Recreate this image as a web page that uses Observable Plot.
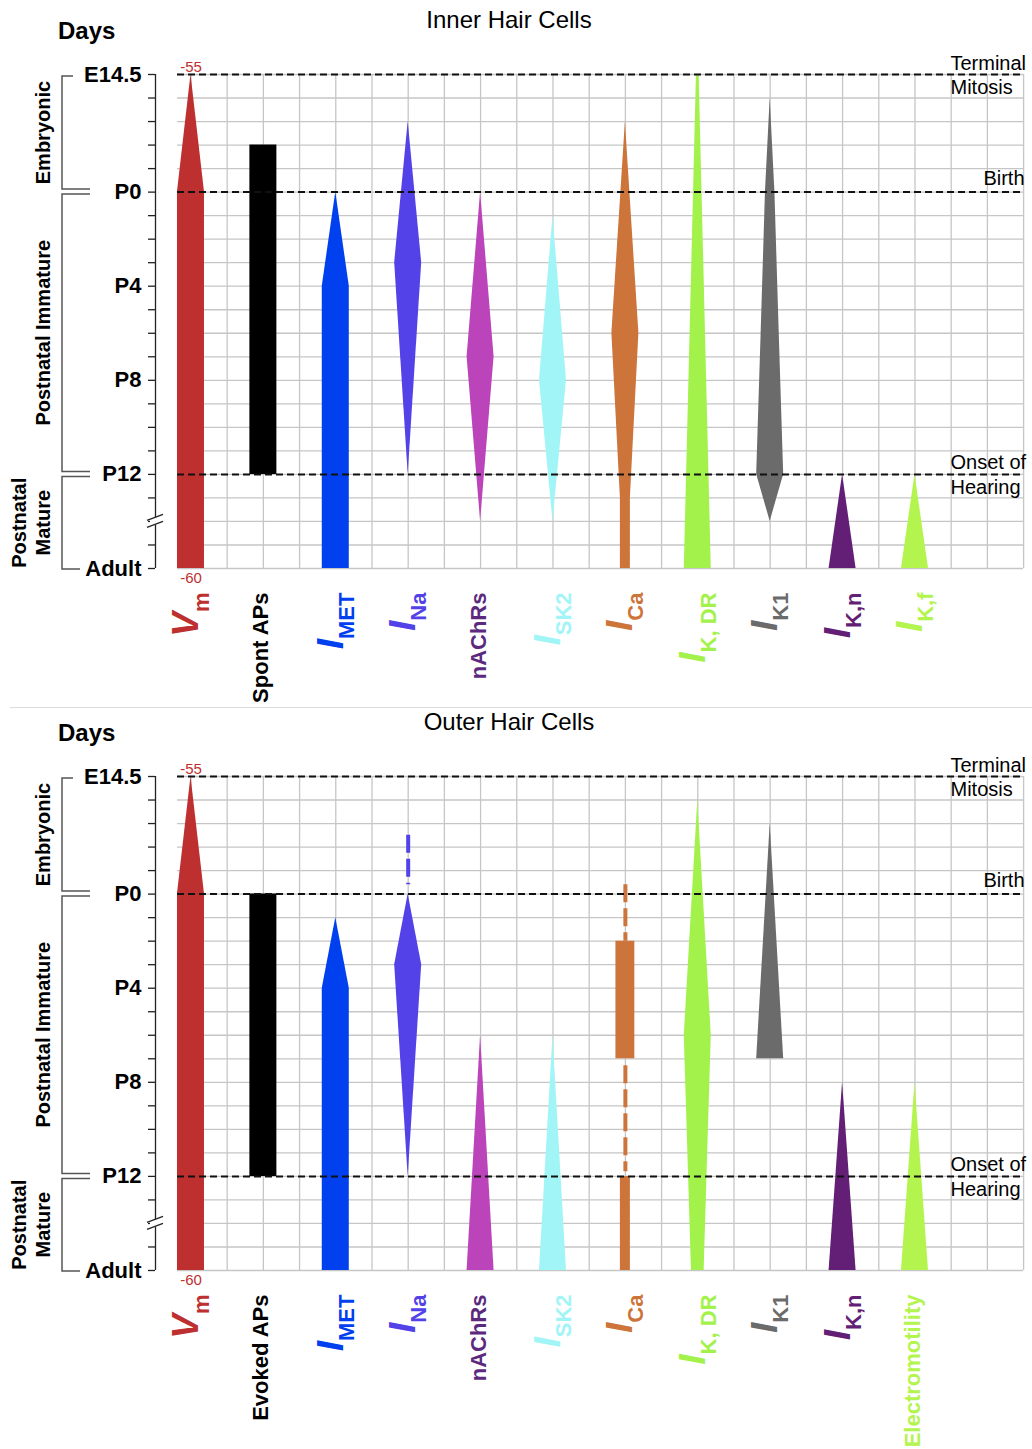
<!DOCTYPE html>
<html><head><meta charset="utf-8">
<script src="https://cdn.jsdelivr.net/npm/d3@7"></script>
<script src="https://cdn.jsdelivr.net/npm/@observablehq/plot@0.6"></script>
<style>
body{margin:0;background:#fff;width:1032px;position:relative;}
svg{display:block}
#sep{position:absolute;top:707px;left:10px;width:1022px;height:1px;background:#dcdcdc;}
</style></head><body><div id="chart"></div><div id="sep"></div>
<script>
// ---------------- data ----------------
const nRows = 21;                                   // E14.5 .. Adult in grid rows
const rowLabelRows = [0, 5, 9, 13, 17, 21];
const rowLabels = ["E14.5", "P0", "P4", "P8", "P12", "Adult"];
const milestoneRows = [0, 5, 17];
const milestoneAbove = ["Terminal", "Birth", "Onset of"];
const milestoneBelow = ["Mitosis", "", "Hearing"];
const stageNames = [["Embryonic"], ["Postnatal Immature"], ["Postnatal", "Mature"]];
const stageStart = [0, 5, 17];
const stageEnd = [5, 17, 21];
const axisBreakRow = 19;
const vmValues = ["-55", "-60"];   // Vm (mV) at top / bottom

const shapeColors = ["#be2f2f", "#000000", "#0040ee", "#5242e8", "#bb44bb", "#a2f5f6",
                     "#cd743a", "#a3f24b", "#6b6b6b", "#621f75", "#b4f44e"];

// Inner hair cells
const ihcMain = ["V", "Spont APs", "I", "I", "nAChRs", "I", "I", "I", "I", "I", "I"];
const ihcSub  = ["m", "", "MET", "Na", "", "SK2", "Ca", "K, DR", "K1", "K,n", "K,f"];
const ihcLabelColors = ["#be2f2f", "#000000", "#0040ee", "#5242e8", "#5b2a7e", "#a2f5f6",
                        "#cd743a", "#a3f24b", "#6b6b6b", "#621f75", "#b4f44e"];
// profiles: per column, list of segments, each [row, relative width]
const ihcProfiles = [
  [[[0, 0], [5, 1], [21, 1]]],
  [[[3, 1], [17, 1]]],
  [[[5, 0], [9, 1], [21, 1]]],
  [[[2, 0], [8, 1], [17, 0]]],
  [[[5, 0], [12, 1], [19, 0]]],
  [[[6, 0], [13, 1], [19, 0]]],
  [[[2, 0], [11, 1], [18, 0.37], [21, 0.37]]],
  [[[0, 0.1], [21, 1]]],
  [[[1, 0], [5, 0.35], [11, 0.67], [17, 1], [19, 0]]],
  [[[17, 0], [21, 1]]],
  [[[17, 0], [21, 1]]]
];
const ihcDashed = [];

// Outer hair cells
const ohcMain = ["V", "Evoked APs", "I", "I", "nAChRs", "I", "I", "I", "I", "I", "Electromotility"];
const ohcSub  = ["m", "", "MET", "Na", "", "SK2", "Ca", "K, DR", "K1", "K,n", ""];
const ohcLabelColors = ihcLabelColors;
const ohcProfiles = [
  [[[0, 0], [5, 1], [21, 1]]],
  [[[5, 1], [17, 1]]],
  [[[6, 0], [9, 1], [21, 1]]],
  [[[5, 0], [8, 1], [17, 0]]],
  [[[11, 0], [21, 1]]],
  [[[11, 0], [21, 1]]],
  [[[7, 0.7], [12, 0.7]], [[17, 0.37], [21, 0.37]]],
  [[[1, 0], [11, 1], [21, 0.47]]],
  [[[2, 0], [12, 1]]],
  [[[13, 0], [21, 1]]],
  [[[13, 0], [21, 1]]]
];
// dashed (uncertain) ranges: [column, fromRow, toRow]
const ohcDashed = [[3, 2.5, 4.6], [6, 4.6, 7], [6, 12.3, 16.8]];

// ---------------- layout / style ----------------
const FONT = "'Liberation Sans', Arial, Helvetica, sans-serif";
const X_MIN = -0.49, X_MAX = 11.554, GRID_LEFT = -0.186, GRID_RIGHT = 11.5, HW = 0.1865;
const NOTE_LEFT = 10.49;

function decorations(title) {
  return (index, scales) => {
    const y = scales.y;
    const g = d3.create("svg:g").attr("font-family", FONT).attr("fill", "#000");
    g.append("text").attr("x", 509).attr("y", 28).attr("text-anchor", "middle")
      .attr("font-size", 24).text(title);
    g.append("text").attr("x", 58).attr("y", 39).attr("text-anchor", "start").attr("font-size", 24)
      .attr("font-weight", "bold").text("Days");
    stageNames.forEach((names, i) => {
      const top = y(stageStart[i]) + (i === 0 ? 2 : 2.5);
      const bot = y(stageEnd[i]) + (i === 2 ? 1 : -2.5);
      const xt = i === 0 ? 73 : 90, xb = i === 2 ? 80 : 90;
      g.append("path").attr("d", `M${xt},${top}H62V${bot}H${xb}`)
        .attr("fill", "none").attr("stroke", "#555").attr("stroke-width", 1.5);
      const cy = (top + bot) / 2;
      names.forEach((nm, j) => {
        const cx = 43 - (names.length - 1 - j) * 24;
        g.append("text").attr("transform", `translate(${cx},${cy}) rotate(-90)`)
          .attr("y", "0.36em").attr("text-anchor", "middle").attr("font-size", 20)
          .attr("font-weight", "bold").text(nm);
      });
    });
    const yb = y(axisBreakRow);
    g.append("rect").attr("x", 150).attr("y", yb - 4).attr("width", 10).attr("height", 8).attr("fill", "#fff");
    [-3.5, 3.5].forEach(o => g.append("line").attr("x1", 147).attr("x2", 163)
      .attr("y1", yb + o + 3).attr("y2", yb + o - 3).attr("stroke", "#222").attr("stroke-width", 1.3));
    return g.node();
  };
}

function makePanel({title, main, sub, labelColors, profiles, dashed, height}) {
  const n = main.length;
  const shapePts = profiles.flatMap((segs, c) => segs.flatMap((seg, s) =>
    seg.map(([row, w]) => ({id: `${c}-${s}`, col: c, row, w, color: shapeColors[c]}))));
  const labels = d3.range(n).map(c => ({col: c, main: main[c], sub: sub[c], color: labelColors[c]}));
  const dashData = dashed.map(([c, r1, r2]) => ({col: c, r1, r2, color: shapeColors[c]}));
  const milestones = milestoneRows.map((row, i) => ({row, above: milestoneAbove[i], below: milestoneBelow[i]}));
  const twoLine = milestones.filter(d => d.below);
  const oneLine = milestones.filter(d => !d.below);
  const gridCols = d3.range(0, 24).map(k => k / 2);
  const gridRows = d3.range(0, nRows + 1);
  const tickMap = new Map(rowLabelRows.map((r, i) => [r, rowLabels[i]]));

  const svg = Plot.plot({
    width: 1032, height,
    marginLeft: 155, marginRight: 5, marginTop: 74, marginBottom: height - 568,
    x: {domain: [X_MIN, X_MAX], axis: null},
    y: {domain: [0, nRows], reverse: true},
    color: {type: "identity"},
    style: {fontFamily: FONT, fontSize: "20px", background: "#fff", color: "#000", overflow: "visible"},
    marks: [
      Plot.ruleX(gridCols, {x: d => d, y1: 0, y2: nRows, stroke: "#c6c6c6", strokeWidth: 1.3}),
      Plot.ruleY(gridRows, {y: d => d, x1: GRID_LEFT, x2: GRID_RIGHT, stroke: "#c6c6c6", strokeWidth: 1.3}),
      Plot.areaX(shapePts, {y: "row", x1: d => d.col - d.w * HW, x2: d => d.col + d.w * HW, z: "id", fill: "color"}),
      Plot.ruleX(dashData, {x: "col", y1: "r1", y2: "r2", stroke: "color", strokeWidth: 4, strokeDasharray: "18,6"}),
      Plot.ruleY(milestones, {y: "row", x1: GRID_LEFT, x2: GRID_RIGHT, stroke: "#111", strokeWidth: 2, strokeDasharray: "7,4"}),
      Plot.text(twoLine, {y: "row", x: () => NOTE_LEFT, text: "above", textAnchor: "start", lineAnchor: "bottom", dy: -5, fontSize: 20}),
      Plot.text(twoLine, {y: "row", x: () => NOTE_LEFT, text: "below", textAnchor: "start", lineAnchor: "top", dy: 5, fontSize: 20}),
      Plot.text(oneLine, {y: "row", frameAnchor: "right", text: "above", textAnchor: "end", lineAnchor: "bottom", dy: -7, dx: -3, fontSize: 20}),
      Plot.text([vmValues[0]], {x: 0, y: 0, text: d => d, lineAnchor: "bottom", dy: -3, fontSize: 15, fill: shapeColors[0]}),
      Plot.text([vmValues[1]], {x: 0, y: nRows, text: d => d, lineAnchor: "top", dy: 4, fontSize: 15, fill: shapeColors[0]}),
      Plot.ruleX([X_MIN], {y1: 0, y2: nRows, stroke: "#222", strokeWidth: 1.3}),
      Plot.axisY(gridRows, {tickSize: 7, tickPadding: 7, tickFormat: r => tickMap.get(r) ?? "",
        fontSize: 22, fontWeight: "bold", label: null, stroke: "#222", strokeWidth: 1.3}),
      Plot.text(labels, {x: "col", frameAnchor: "bottom", dy: 24, text: "main", rotate: -90,
        textAnchor: "end", lineAnchor: "bottom", fill: "color", fontSize: 22, className: "collab"}),
      decorations(title)
    ]
  });

  d3.select(svg).selectAll("g.collab text").each(function (_, i) {
    const d = labels[i];
    const t = d3.select(this);
    t.text(null);
    if (d.sub) {
      t.attr("y", 7);
      t.append("tspan").attr("font-size", 37).attr("font-style", "italic").attr("font-weight", "bold").text(d.main);
      t.append("tspan").attr("font-size", 22).attr("font-weight", "bold").attr("dy", 11).text(d.sub);
    } else {
      t.attr("y", 5).attr("font-weight", "bold").text(d.main);
    }
  });
  return svg;
}

const root = document.getElementById("chart");
root.appendChild(makePanel({title: "Inner Hair Cells", main: ihcMain, sub: ihcSub,
  labelColors: ihcLabelColors, profiles: ihcProfiles, dashed: ihcDashed, height: 702}));
root.appendChild(makePanel({title: "Outer Hair Cells", main: ohcMain, sub: ohcSub,
  labelColors: ohcLabelColors, profiles: ohcProfiles, dashed: ohcDashed, height: 747}));
</script></body></html>
